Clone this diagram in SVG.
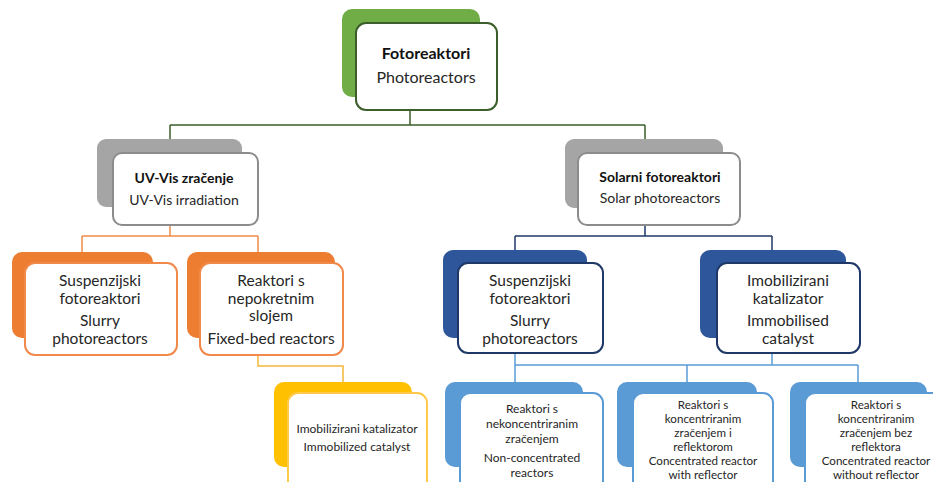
<svg xmlns="http://www.w3.org/2000/svg" width="933" height="482" viewBox="0 0 933 482">
<style>
text{font-family:Lato,"Open Sans","Liberation Sans",sans-serif;fill:#262626;text-anchor:middle}
.b{font-weight:bold;fill:#111}
.t0{font-size:16px}
.t1{font-size:14px}
.t2{font-size:15.5px}
.t3{font-size:12px}
.t4{font-size:11.6px}
.f{fill:#fff;stroke-width:2}
.c{fill:none;stroke-width:1.5}
</style>
<rect width="933" height="482" fill="#fff"/>
<g id="connectors">
<path class="c" stroke="#3b5e2b" d="M410 110V125M170 125H645M170 125V139M645 125V139"/>
<path class="c" stroke="#f0894a" d="M170 225V236M82 236H258M82 236V252M258 236V252"/>
<path class="c" stroke="#1f3868" d="M645 225V236M515 236H772M515 236V250M772 236V250"/>
<path class="c" stroke="#f5b63a" d="M258 355V366H343V382"/>
<path class="c" stroke="#5b9bd5" d="M515 353V365M772 353V365M515 365H858M515 365V382M687 365V382M858 365V382"/>
</g>
<g id="n-fotoreaktori">
<rect x="342" y="9" width="138" height="88" rx="10" fill="#70ad47"/>
<rect class="f" x="356" y="23" width="141" height="87" rx="10" stroke="#3b5e2b"/>
<text class="b t0" x="426" y="59">Fotoreaktori</text>
<text class="t0" x="426" y="83">Photoreactors</text>
</g>
<g id="n-uvvis">
<rect x="97" y="139" width="145" height="68" rx="9" fill="#a5a5a5"/>
<rect class="f" x="113" y="153" width="145" height="72" rx="9" stroke="#8c8c8c"/>
<text class="b t1" x="184" y="183">UV-Vis zračenje</text>
<text class="t1" x="184" y="205">UV-Vis irradiation</text>
</g>
<g id="n-solar">
<rect x="565" y="139" width="158" height="69" rx="9" fill="#a5a5a5"/>
<rect class="f" x="578" y="153" width="162" height="72" rx="9" stroke="#8c8c8c"/>
<text class="b t1" x="660" y="182">Solarni fotoreaktori</text>
<text class="t1" x="660" y="203">Solar photoreactors</text>
</g>
<g id="n-slurry-uv">
<rect x="12" y="252" width="141" height="86" rx="10" fill="#ed7d31"/>
<rect class="f" x="25" y="263" width="152" height="92" rx="10" stroke="#f0894a"/>
<text class="t2" x="100" y="286">Suspenzijski</text>
<text class="t2" x="100" y="304">fotoreaktori</text>
<text class="t2" x="100" y="326">Slurry</text>
<text class="t2" x="100" y="344">photoreactors</text>
</g>
<g id="n-fixed-bed">
<rect x="187" y="252" width="148" height="86" rx="10" fill="#ed7d31"/>
<rect class="f" x="200" y="263" width="143" height="92" rx="10" stroke="#f0894a"/>
<text class="t2" x="271" y="286">Reaktori s</text>
<text class="t2" x="271" y="304">nepokretnim</text>
<text class="t2" x="271" y="321">slojem</text>
<text class="t2" x="271" y="344">Fixed-bed reactors</text>
</g>
<g id="n-slurry-solar">
<rect x="443" y="250" width="144" height="88" rx="10" fill="#2e569b"/>
<rect class="f" x="458" y="263" width="145" height="90" rx="10" stroke="#1f3868"/>
<text class="t2" x="530" y="286">Suspenzijski</text>
<text class="t2" x="530" y="304">fotoreaktori</text>
<text class="t2" x="530" y="326">Slurry</text>
<text class="t2" x="530" y="344">photoreactors</text>
</g>
<g id="n-immobilised">
<rect x="700" y="250" width="146" height="88" rx="10" fill="#2e569b"/>
<rect class="f" x="717" y="263" width="143" height="90" rx="10" stroke="#1f3868"/>
<text class="t2" x="788" y="286">Imobilizirani</text>
<text class="t2" x="788" y="304">katalizator</text>
<text class="t2" x="788" y="326">Immobilised</text>
<text class="t2" x="788" y="344">catalyst</text>
</g>
<g id="n-immobilized-uv">
<rect x="274" y="382" width="138" height="85" rx="10" fill="#ffc000"/>
<rect class="f" x="288" y="393" width="139" height="100" rx="10" stroke="#ffc94a"/>
<text class="t3" x="357" y="433">Imobilizirani katalizator</text>
<text class="t3" x="357" y="451">Immobilized catalyst</text>
</g>
<g id="n-nonconc">
<rect x="445" y="382" width="138" height="85" rx="10" fill="#5b9bd5"/>
<rect class="f" x="460" y="393" width="143" height="100" rx="10" stroke="#5b9bd5"/>
<text class="t3" x="532" y="413">Reaktori s</text>
<text class="t3" x="532" y="428">nekoncentriranim</text>
<text class="t3" x="532" y="443">zračenjem</text>
<text class="t3" x="532" y="462">Non-concentrated</text>
<text class="t3" x="532" y="477">reactors</text>
</g>
<g id="n-conc-refl">
<rect x="617" y="382" width="140" height="85" rx="10" fill="#5b9bd5"/>
<rect class="f" x="633" y="393" width="140" height="100" rx="10" stroke="#5b9bd5"/>
<text class="t4" x="703" y="409">Reaktori s</text>
<text class="t4" x="703" y="423">koncentriranim</text>
<text class="t4" x="703" y="437">zračenjem i</text>
<text class="t4" x="703" y="451">reflektorom</text>
<text class="t4" x="703" y="465">Concentrated reactor</text>
<text class="t4" x="703" y="479">with reflector</text>
</g>
<g id="n-conc-norefl">
<rect x="790" y="382" width="137" height="85" rx="10" fill="#5b9bd5"/>
<rect class="f" x="805" y="393" width="140" height="100" rx="10" stroke="#5b9bd5"/>
<text class="t4" x="876" y="409">Reaktori s</text>
<text class="t4" x="876" y="423">koncentriranim</text>
<text class="t4" x="876" y="437">zračenjem bez</text>
<text class="t4" x="876" y="451">reflektora</text>
<text class="t4" x="876" y="465">Concentrated reactor</text>
<text class="t4" x="876" y="479">without reflector</text>
</g>
</svg>
